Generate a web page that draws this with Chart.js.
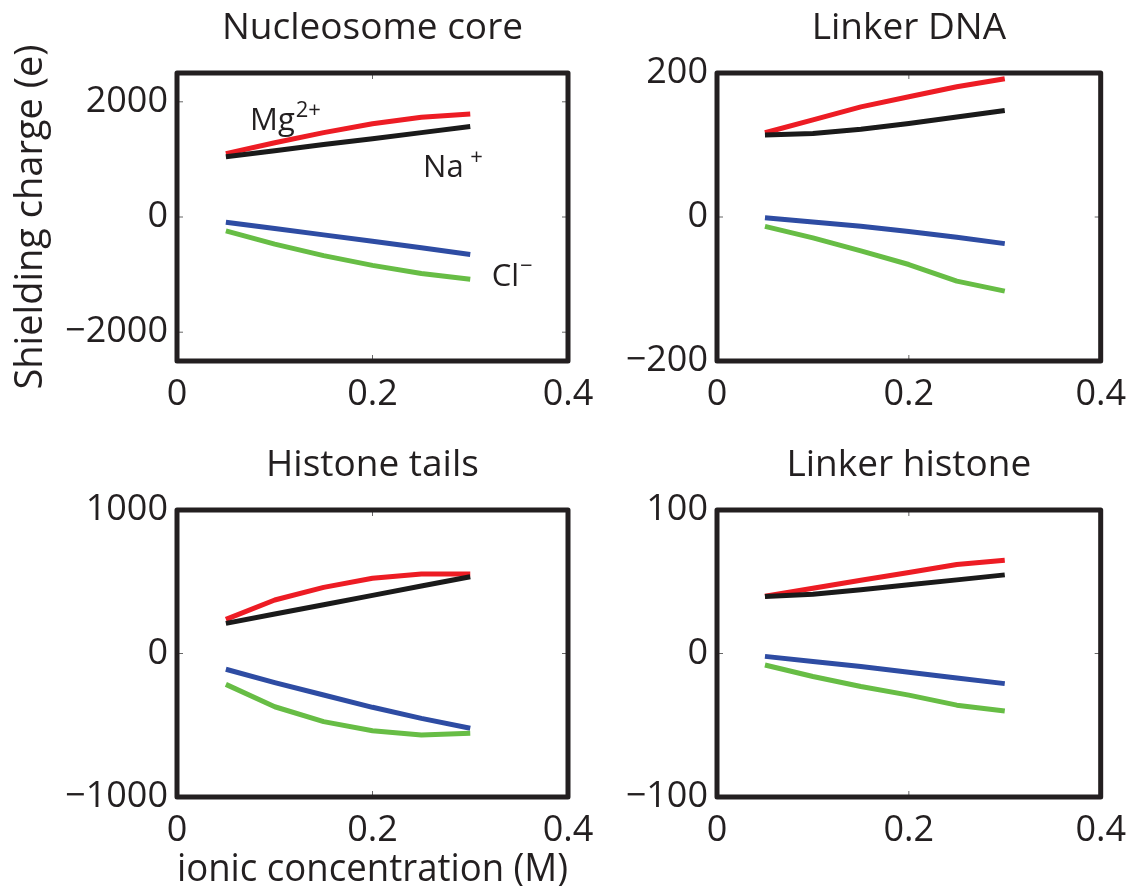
<!DOCTYPE html>
<html>
<head>
<meta charset="utf-8">
<script src="https://cdn.jsdelivr.net/npm/chart.js@4/dist/chart.umd.min.js"></script>
<style>
  html, body { margin: 0; padding: 0; background: #fff; }
  #pagina { position: relative; width: 1138px; height: 886px; overflow: hidden; }
  #pagina canvas { position: absolute; left: 0; top: 0; }
</style>
</head>
<body>
<div id="pagina">
  <canvas id="graficoCore" width="1138" height="886"></canvas>
  <canvas id="graficoLinker" width="1138" height="886"></canvas>
  <canvas id="graficoCaudas" width="1138" height="886"></canvas>
  <canvas id="graficoHistonaLigante" width="1138" height="886"></canvas>
</div>
<script>
// concentração iônica (M), comum aos quatro painéis
const concentracoes = [0.05, 0.1, 0.15, 0.2, 0.25, 0.3];
const ticksX = [0, 0.2, 0.4];

// Nucleosome core
const coreMg = [1100, 1290, 1465, 1620, 1730, 1790];
const coreNa = [1045, 1150, 1260, 1360, 1465, 1570];
const coreClNa = [-90, -200, -310, -420, -535, -650];
const coreClMg = [-240, -470, -670, -840, -980, -1080];
const ticksCore = [-2000, 0, 2000];

// Linker DNA
const linkerMg = [117, 135, 153, 167, 181, 192];
const linkerNa = [114, 116, 122, 130, 139, 148];
const linkerClNa = [-1, -7, -13, -20, -28, -37];
const linkerClMg = [-13, -29, -47, -66, -89, -103];
const ticksLinker = [-200, 0, 200];

// Histone tails
const caudasMg = [238, 373, 461, 524, 554, 554];
const caudasNa = [210, 275, 340, 405, 470, 535];
const caudasClNa = [-110, -203, -289, -375, -452, -521];
const caudasClMg = [-215, -371, -475, -538, -568, -556];
const ticksCaudas = [-1000, 0, 1000];

// Linker histone
const h1Mg = [40, 45.5, 51, 56.4, 62, 65];
const h1Na = [39.7, 41.3, 44.4, 47.9, 51.3, 54.8];
const h1ClNa = [-2, -5.6, -9, -13, -17, -21];
const h1ClMg = [-8, -16, -23, -29, -36, -40];
const ticksH1 = [-100, 0, 100];

const FONTE = '"Open Sans", "Noto Sans", sans-serif';
const COR_TEXTO = '#231f20';
const cores = { mg: '#ed1c24', na: '#1a1a1a', clNa: '#2e4ca3', clMg: '#67bd45' };

const formatarTick = v => (v < 0 ? '\u2212' + Math.abs(v) : String(v));

function serie(valores, cor) {
    return {
        data: concentracoes.map((x, i) => ({ x: x, y: valores[i] })),
        borderColor: cor,
        borderWidth: 5,
        tension: 0,
        pointRadius: 0,
        borderJoinStyle: 'round',
        fill: false
    };
}

// moldura grossa estilo MATLAB com ticks para dentro, e o título centrado sobre a área do gráfico
const moldura = {
    id: 'moldura',
    afterDatasetsDraw(chart, args, opts) {
        const { ctx, chartArea: a, scales } = chart;
        ctx.save();
        ctx.strokeStyle = '#666';
        ctx.lineWidth = 1;
        scales.x.ticks.forEach(t => {
            const px = scales.x.getPixelForValue(t.value);
            ctx.beginPath();
            ctx.moveTo(px, a.bottom); ctx.lineTo(px, a.bottom - 6);
            ctx.moveTo(px, a.top); ctx.lineTo(px, a.top + 6);
            ctx.stroke();
        });
        scales.y.ticks.forEach(t => {
            const py = scales.y.getPixelForValue(t.value);
            ctx.beginPath();
            ctx.moveTo(a.left, py); ctx.lineTo(a.left + 6, py);
            ctx.moveTo(a.right, py); ctx.lineTo(a.right - 6, py);
            ctx.stroke();
        });
        ctx.strokeStyle = COR_TEXTO;
        ctx.lineWidth = 5;
        ctx.lineJoin = 'round';
        ctx.strokeRect(a.left, a.top, a.right - a.left, a.bottom - a.top);

        ctx.fillStyle = COR_TEXTO;
        ctx.font = '37px ' + FONTE;
        ctx.textAlign = 'center';
        ctx.textBaseline = 'middle';
        ctx.fillText(opts.texto, (a.left + a.right) / 2, a.top - 45);
        ctx.restore();
    }
};

// rótulos dos íons no primeiro painel
const rotulosIons = {
    id: 'rotulosIons',
    afterDraw(chart) {
        const { ctx, scales } = chart;
        const rotulos = [
            { x: 0.0747, y: 1517, base: 'Mg', sup: '2+' },
            { x: 0.2517, y: 690, base: 'Na', sup: ' +' },
            { x: 0.322, y: -1190, base: 'Cl', sup: '\u2212' }
        ];
        ctx.save();
        ctx.fillStyle = COR_TEXTO;
        ctx.textBaseline = 'alphabetic';
        ctx.textAlign = 'left';
        rotulos.forEach(r => {
            const px = scales.x.getPixelForValue(r.x);
            const py = scales.y.getPixelForValue(r.y);
            ctx.font = '31px ' + FONTE;
            ctx.fillText(r.base, px, py);
            const w = ctx.measureText(r.base).width;
            ctx.font = '22px ' + FONTE;
            ctx.fillText(r.sup, px + w + 1, py - 13);
        });
        ctx.restore();
    }
};

function criarPainel(idCanvas, cfg) {
    return new Chart(document.getElementById(idCanvas), {
        type: 'line',
        data: {
            datasets: [
                serie(cfg.clMg, cores.clMg),
                serie(cfg.clNa, cores.clNa),
                serie(cfg.na, cores.na),
                serie(cfg.mg, cores.mg)
            ]
        },
        options: {
            responsive: false,
            animation: false,
            events: [],
            layout: { padding: cfg.padding },
            plugins: {
                legend: { display: false },
                tooltip: { enabled: false },
                title: { display: false },
                moldura: { texto: cfg.titulo }
            },
            scales: {
                x: {
                    type: 'linear',
                    min: 0,
                    max: 0.4,
                    afterBuildTicks: s => { s.ticks = ticksX.map(v => ({ value: v })); },
                    afterFit: s => { s.height = cfg.alturaX; },
                    grid: { display: false, drawTicks: false },
                    border: { display: false },
                    ticks: {
                        color: COR_TEXTO,
                        padding: 12,
                        maxRotation: 0,
                        autoSkip: false,
                        font: { family: FONTE, size: 36 },
                        callback: formatarTick
                    },
                    title: {
                        display: !!cfg.tituloX,
                        text: cfg.tituloX || '',
                        color: COR_TEXTO,
                        font: { family: FONTE, size: 38, lineHeight: 1 },
                        padding: { top: 0, bottom: -3 }
                    }
                },
                y: {
                    min: cfg.limite[0],
                    max: cfg.limite[1],
                    afterBuildTicks: s => { s.ticks = cfg.ticksY.map(v => ({ value: v })); },
                    afterFit: s => { s.width = cfg.larguraY; },
                    grid: { display: false, drawTicks: false },
                    border: { display: false },
                    ticks: {
                        color: COR_TEXTO,
                        padding: 9,
                        autoSkip: false,
                        font: { family: FONTE, size: 36 },
                        callback: formatarTick
                    },
                    title: {
                        display: !!cfg.tituloY,
                        text: cfg.tituloY || '',
                        color: COR_TEXTO,
                        font: { family: FONTE, size: 38, lineHeight: 1 },
                        padding: { top: 12, bottom: 0 }
                    }
                }
            }
        },
        plugins: cfg.extras ? [moldura].concat(cfg.extras) : [moldura]
    });
}

const chartCore = criarPainel('graficoCore', {
    titulo: 'Nucleosome core',
    tituloY: 'Shielding charge (e)',
    mg: coreMg, na: coreNa, clNa: coreClNa, clMg: coreClMg,
    limite: [-2500, 2500], ticksY: ticksCore,
    padding: { left: 0, right: 1138 - 568, top: 73, bottom: 465 },
    larguraY: 177, alturaX: 60,
    extras: [rotulosIons]
});

const chartLinker = criarPainel('graficoLinker', {
    titulo: 'Linker DNA',
    mg: linkerMg, na: linkerNa, clNa: linkerClNa, clMg: linkerClMg,
    limite: [-200, 200], ticksY: ticksLinker,
    padding: { left: 600, right: 1138 - 1108, top: 73, bottom: 465 },
    larguraY: 117, alturaX: 60
});

const chartCaudas = criarPainel('graficoCaudas', {
    titulo: 'Histone tails',
    tituloX: 'ionic concentration (M)',
    mg: caudasMg, na: caudasNa, clNa: caudasClNa, clMg: caudasClMg,
    limite: [-1000, 1000], ticksY: ticksCaudas,
    padding: { left: 0, right: 1138 - 568, top: 510, bottom: 0 },
    larguraY: 177, alturaX: 89
});

const chartH1 = criarPainel('graficoHistonaLigante', {
    titulo: 'Linker histone',
    mg: h1Mg, na: h1Na, clNa: h1ClNa, clMg: h1ClMg,
    limite: [-100, 100], ticksY: ticksH1,
    padding: { left: 600, right: 1138 - 1108, top: 510, bottom: 29 },
    larguraY: 117, alturaX: 60
});
</script>
</body>
</html>
